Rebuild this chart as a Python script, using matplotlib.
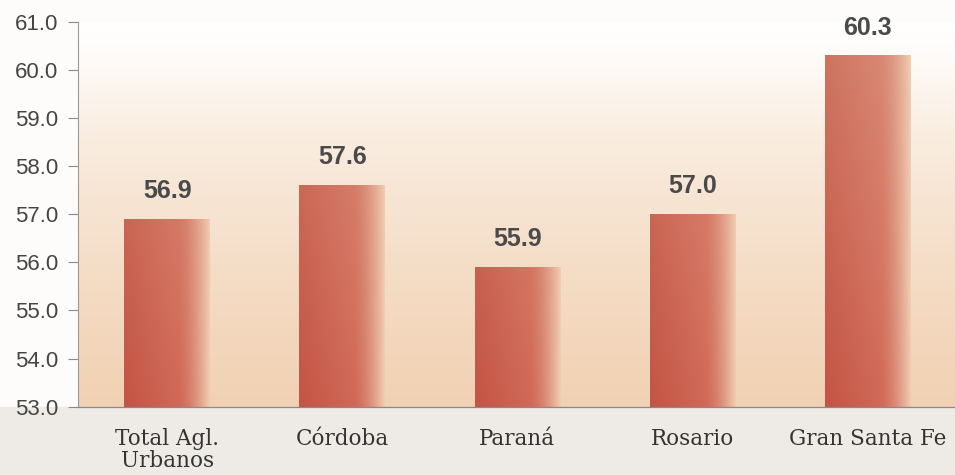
import numpy as np
import matplotlib
matplotlib.use('Agg')
from matplotlib import pyplot as plt
from matplotlib.colors import LinearSegmentedColormap, to_rgb
from matplotlib.patches import Rectangle

# datos
categorias = ['Total Agl.\nUrbanos', 'Córdoba', 'Paraná', 'Rosario', 'Gran Santa Fe']
valores = [56.9, 57.6, 55.9, 57.0, 60.3]
yticks = [53.0, 54.0, 55.0, 56.0, 57.0, 58.0, 59.0, 60.0, 61.0]

YMIN, YMAX = 53, 61

fig = plt.figure(figsize=(9.55, 4.75), dpi=100, facecolor='#fdfcfa')
# franja gris debajo del eje
fig.patches.append(Rectangle((0, 0), 1, 0.144, transform=fig.transFigure,
                             color='#eeebe7', zorder=-1))
ax = fig.add_axes([0.0817, 0.1438, 0.9183, 0.8105])

# fondo degradado del area del grafico
fondo = LinearSegmentedColormap.from_list('fondo', [
    (0.0, '#f1d1b3'), (0.3, '#f4dbc3'), (0.55, '#f7e5d4'),
    (0.72, '#faeee2'), (0.82, '#fcf5ee'), (0.92, '#fefcfa'), (1.0, '#ffffff')])
g = np.linspace(0, 1, 256).reshape(-1, 1)
ax.imshow(g, cmap=fondo, origin='lower', extent=[0, 1, 0, 1],
          transform=ax.transAxes, aspect='auto', zorder=0)

# colores de las barras (abajo mas oscuro, arriba mas claro)
izq_abajo, izq_arriba = np.array(to_rgb('#c45444')), np.array(to_rgb('#cf7662'))
med_abajo, med_arriba = np.array(to_rgb('#d06856')), np.array(to_rgb('#d88a75'))
borde = np.array(to_rgb('#f0cdb2'))


def degradado(y0, y1, n=200):
    u = np.linspace(0, 1, n)
    t = np.linspace((y0 - YMIN) / (YMAX - YMIN), (y1 - YMIN) / (YMAX - YMIN), n)
    img = np.zeros((n, n, 3))
    for i, ti in enumerate(t):
        izq = izq_abajo + (izq_arriba - izq_abajo) * ti
        med = med_abajo + (med_arriba - med_abajo) * ti
        for j, uj in enumerate(u):
            if uj < 0.62:
                c = izq + (med - izq) * (uj / 0.62)
            else:
                s = (uj - 0.62) / 0.38
                c = med + (borde - med) * s ** 1.6
            img[i, j] = c
    return img


x = np.arange(len(categorias))
ancho = 0.49
bars = ax.bar(x, np.array(valores) - YMIN, bottom=YMIN, width=ancho,
              color='none', edgecolor='none', zorder=2)
for b in bars:
    x0, y0 = b.get_x(), b.get_y()
    y1 = y0 + b.get_height()
    im = ax.imshow(degradado(y0, y1), origin='lower',
                   extent=[x0, x0 + b.get_width(), y0, y1],
                   aspect='auto', zorder=2)
    im.set_clip_path(b)

for xi, v in zip(x, valores):
    ax.annotate(f'{v:.1f}', (xi, v), xytext=(0, 15), textcoords='offset points',
                ha='center', va='baseline', fontsize=18, fontweight='bold',
                color='#4a4a4a', family='Liberation Sans')

ax.set_xlim(-0.51, 4.5)
ax.set_ylim(YMIN, YMAX)
ax.set_yticks(yticks)
ax.set_yticklabels([f'{t:.1f}' for t in yticks], fontsize=16,
                   color='#454545', family='Liberation Sans')
ax.set_xticks(x)
ax.set_xticklabels(categorias, fontsize=15.5, color='#333333',
                   family='DejaVu Serif', linespacing=1.0)
ax.tick_params(axis='y', length=7, width=0.8, color='#8a8a8a', pad=7)
ax.tick_params(axis='x', length=0, pad=15)

for s in ['top', 'right']:
    ax.spines[s].set_visible(False)
ax.spines['left'].set_color('#9a9a9a')
ax.spines['left'].set_linewidth(0.8)
ax.spines['bottom'].set_color('#8a8a8a')
ax.spines['bottom'].set_linewidth(0.9)

fig.savefig('out.png', dpi=100, facecolor=fig.get_facecolor())
